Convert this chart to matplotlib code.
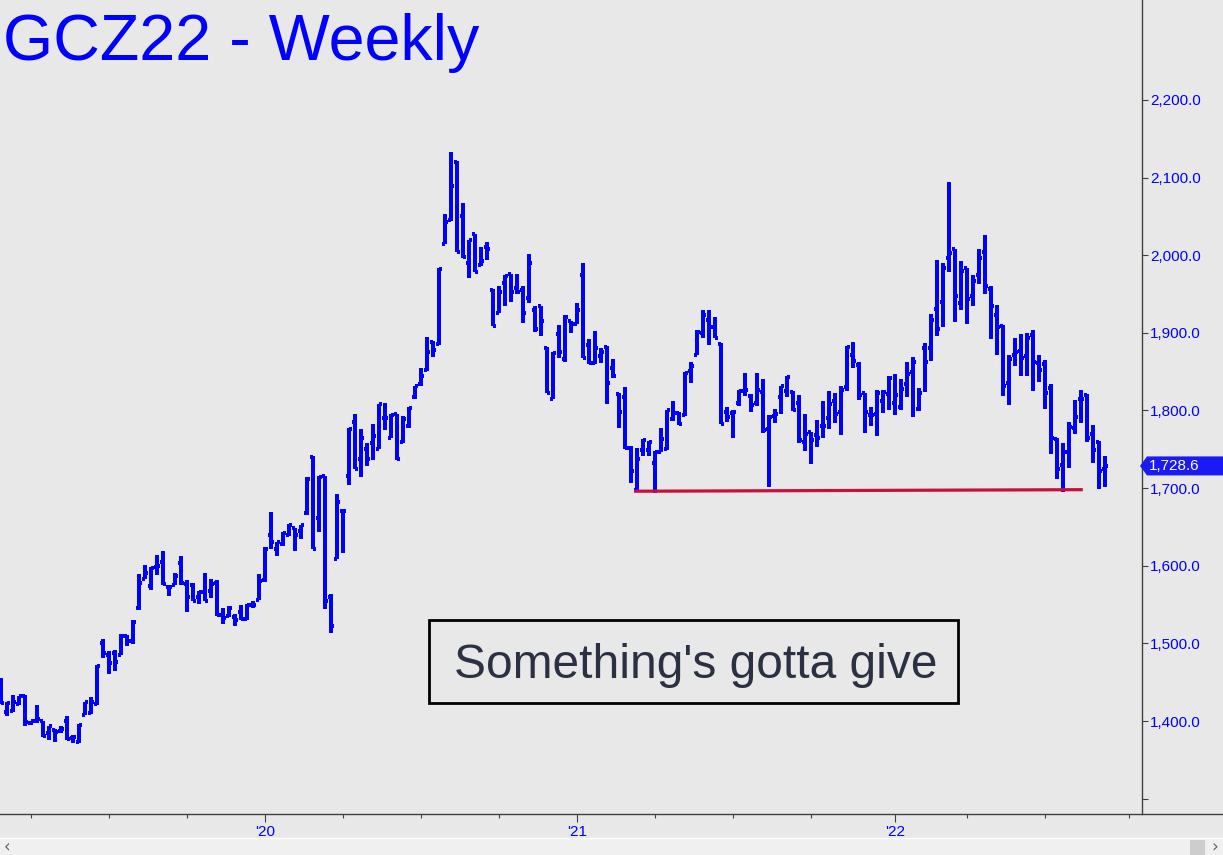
import matplotlib
matplotlib.use('Agg')
import matplotlib.pyplot as plt
from matplotlib.collections import LineCollection
from matplotlib.patches import Rectangle, Polygon
import matplotlib.transforms as mtransforms
import numpy as np

plt.rcParams['font.family'] = ['Liberation Sans', 'DejaVu Sans']

# ---------------- data ----------------
title = "GCZ22 - Weekly"
note = "Something's gotta give"

opens = [1450, 1412, 1413, 1422, 1432, 1397, 1400, 1400, 1385, 1388,
         1387, 1400, 1378, 1373, 1408, 1410, 1422, 1500, 1485, 1487,
         1485, 1510, 1503, 1545, 1583, 1574, 1599, 1605, 1572, 1575,
         1604, 1576, 1575, 1560, 1566, 1567, 1578, 1537, 1535, 1534,
         1540, 1532, 1550, 1556, 1581, 1640, 1621, 1628, 1640, 1648,
         1645, 1668, 1740, 1661, 1715, 1560, 1609, 1670, 1716, 1785,
         1738, 1750, 1758, 1751, 1790, 1765, 1795, 1759, 1780, 1818,
         1834, 1852, 1888, 1886, 2015, 2045, 2120, 2050, 1990, 2027,
         1987, 2010, 1955, 1926, 1964, 1976, 1958, 1955, 1945, 1930,
         1934, 1881, 1815, 1899, 1866, 1915, 1912, 1974, 1884, 1861,
         1870, 1882, 1855, 1821, 1817, 1752, 1698, 1749, 1749, 1732,
         1746, 1751, 1789, 1797, 1794, 1851, 1872, 1900, 1917, 1908,
         1886, 1798, 1797, 1810, 1825, 1819, 1810, 1824, 1776, 1793,
         1818, 1825, 1824, 1810, 1760, 1772, 1768, 1780, 1790, 1812,
         1798, 1830, 1872, 1858, 1822, 1794, 1796, 1812, 1821, 1810,
         1805, 1834, 1849, 1802, 1881, 1881, 1931, 1940, 1996, 2008,
         1938, 1983, 1948, 1974, 2004, 1957, 1923, 1909, 1835, 1872,
         1877, 1870, 1897, 1861, 1860, 1829, 1763, 1730, 1746, 1778,
         1815, 1820, 1770, 1760, 1725]

highs = [1455, 1424, 1434, 1432, 1434, 1400, 1421, 1400, 1394, 1390,
         1393, 1406, 1382, 1396, 1425, 1431, 1472, 1506, 1490, 1491,
         1512, 1511, 1530, 1589, 1601, 1599, 1614, 1619, 1574, 1591,
         1612, 1582, 1578, 1568, 1591, 1583, 1582, 1546, 1548, 1538,
         1549, 1551, 1554, 1589, 1624, 1669, 1631, 1643, 1654, 1648,
         1652, 1714, 1742, 1716, 1715, 1564, 1692, 1672, 1777, 1795,
         1776, 1758, 1782, 1809, 1810, 1795, 1795, 1793, 1804, 1832,
         1855, 1895, 1890, 1984, 2053, 2133, 2121, 2067, 2020, 2027,
         2010, 2017, 1956, 1961, 1974, 1976, 1976, 1961, 2002, 1935,
         1934, 1882, 1875, 1910, 1923, 1915, 1938, 1990, 1892, 1902,
         1881, 1883, 1866, 1822, 1830, 1754, 1752, 1763, 1761, 1748,
         1777, 1801, 1812, 1798, 1850, 1863, 1904, 1929, 1929, 1920,
         1887, 1804, 1801, 1827, 1848, 1821, 1848, 1840, 1794, 1802,
         1832, 1844, 1825, 1820, 1795, 1772, 1788, 1812, 1825, 1822,
         1831, 1883, 1888, 1863, 1822, 1805, 1826, 1826, 1844, 1847,
         1840, 1863, 1869, 1829, 1887, 1924, 1994, 1990, 2094, 2008,
         1993, 1984, 1974, 2008, 2026, 1960, 1936, 1910, 1872, 1893,
         1898, 1900, 1904, 1872, 1865, 1834, 1765, 1758, 1785, 1814,
         1827, 1821, 1781, 1761, 1742]

lows = [1422, 1407, 1412, 1420, 1393, 1395, 1398, 1380, 1376, 1373,
        1385, 1376, 1372, 1372, 1408, 1409, 1420, 1481, 1460, 1464,
        1485, 1497, 1499, 1543, 1583, 1569, 1588, 1575, 1561, 1575,
        1575, 1541, 1554, 1551, 1554, 1559, 1535, 1525, 1534, 1523,
        1530, 1530, 1546, 1556, 1579, 1622, 1612, 1626, 1638, 1619,
        1634, 1666, 1621, 1643, 1544, 1514, 1609, 1617, 1704, 1724,
        1714, 1729, 1736, 1750, 1775, 1764, 1736, 1758, 1778, 1815,
        1832, 1851, 1869, 1884, 2014, 2044, 2004, 1997, 1971, 1978,
        1986, 1994, 1909, 1926, 1935, 1940, 1950, 1913, 1939, 1901,
        1896, 1822, 1815, 1867, 1863, 1900, 1911, 1867, 1860, 1860,
        1861, 1809, 1842, 1778, 1750, 1707, 1695, 1742, 1742, 1694,
        1746, 1749, 1787, 1781, 1793, 1836, 1871, 1893, 1884, 1893,
        1782, 1785, 1765, 1806, 1819, 1798, 1806, 1771, 1702, 1784,
        1795, 1817, 1799, 1758, 1748, 1731, 1753, 1765, 1776, 1784,
        1768, 1825, 1855, 1814, 1771, 1780, 1767, 1797, 1801, 1794,
        1801, 1817, 1792, 1799, 1824, 1864, 1896, 1907, 1978, 1914,
        1930, 1911, 1935, 1963, 1950, 1892, 1871, 1819, 1807, 1857,
        1845, 1844, 1825, 1837, 1802, 1744, 1712, 1695, 1726, 1770,
        1784, 1759, 1733, 1699, 1701]

closes = [1423, 1423, 1424, 1432, 1399, 1400, 1402, 1381, 1393, 1386,
          1390, 1377, 1380, 1395, 1424, 1425, 1471, 1488, 1475, 1476,
          1510, 1503, 1528, 1578, 1591, 1597, 1600, 1576, 1572, 1587,
          1578, 1560, 1555, 1566, 1555, 1577, 1537, 1533, 1546, 1530,
          1531, 1550, 1549, 1580, 1622, 1630, 1630, 1642, 1652, 1639,
          1652, 1712, 1622, 1714, 1555, 1522, 1682, 1671, 1776, 1725,
          1765, 1738, 1767, 1808, 1790, 1794, 1737, 1789, 1803, 1831,
          1845, 1875, 1878, 1982, 2043, 2089, 2004, 1998, 2019, 1979,
          1993, 2008, 1909, 1952, 1973, 1953, 1952, 1926, 1990, 1905,
          1915, 1823, 1874, 1875, 1920, 1912, 1929, 1868, 1861, 1881,
          1875, 1835, 1844, 1798, 1752, 1722, 1738, 1762, 1760, 1746,
          1763, 1800, 1797, 1783, 1848, 1857, 1901, 1923, 1908, 1894,
          1783, 1791, 1798, 1825, 1826, 1807, 1827, 1775, 1791, 1795,
          1831, 1843, 1801, 1762, 1770, 1762, 1764, 1780, 1808, 1795,
          1827, 1882, 1864, 1820, 1798, 1794, 1823, 1824, 1842, 1820,
          1828, 1847, 1862, 1823, 1862, 1917, 1905, 1983, 2003, 1948,
          1980, 1943, 1967, 1997, 1960, 1935, 1907, 1832, 1866, 1875,
          1868, 1894, 1863, 1852, 1822, 1765, 1724, 1746, 1779, 1792,
          1815, 1765, 1749, 1722, 1728.6]

support_span = [105.5, 180.3]      # bar index where the red line starts / ends
support_level = [1696, 1698]

year_labels = ["'20", "'21", "'22"]
year_ticks = [44.03, 96.03, 149.08]
quarter_ticks = [5.03, 18.03, 31.03, 57.03, 70.03, 83.03, 109.03, 122.03,
                 135.03, 161.05, 174.05, 188.08]
price_ticks = [1300, 1400, 1500, 1600, 1700, 1800, 1900, 2000, 2100, 2200]

# ---------------- figure ----------------
W, H = 1223, 855
BG = '#e8e8e8'
BLUE = '#0000ff'
AXC = '#404040'

fig = plt.figure(figsize=(W / 100, H / 100), dpi=100, facecolor=BG)
ax_bottom_px = 814
ax_right_px = 1141.5
ax = fig.add_axes([0, 1 - ax_bottom_px / H, ax_right_px / W, ax_bottom_px / H])
ax.set_facecolor('none')
ax.set_ylim(1280.2, 2328.8)
ax.set_xlim(-1 / 6, (ax_right_px - 1) / 6)

# OHLC bars
idx = np.arange(len(closes))
o = np.clip(opens, lows, highs)
c = np.clip(closes, lows, highs)
vsegs, tsegs = [], []
for i in idx:
    vsegs.append([(i, lows[i]), (i, highs[i])])
    tsegs.append([(i - 0.45, o[i]), (i, o[i])])
    tsegs.append([(i, c[i]), (i + 0.45, c[i])])
ax.add_collection(LineCollection(vsegs, colors=BLUE, linewidths=1.45,
                                 capstyle='butt', antialiaseds=False,
                                 zorder=3))
ax.add_collection(LineCollection(tsegs, colors=BLUE, linewidths=1.45,
                                 capstyle='butt', antialiaseds=False,
                                 zorder=3))

# support line
ax.plot(support_span, support_level, color='#c8103c', lw=2.3,
        solid_capstyle='butt', zorder=4)

# spines
for s in ('left', 'top', 'bottom'):
    ax.spines[s].set_visible(False)
ax.spines['right'].set_color(AXC)
ax.spines['right'].set_linewidth(1.0)

# y axis
ax.yaxis.tick_right()
ax.set_yticks(price_ticks)
ax.set_yticklabels(['' if v == 1300 else f'{v:,.1f}' for v in price_ticks])
ax.tick_params(axis='y', direction='out', length=4, width=0.8, color=AXC,
               labelcolor=BLUE, labelsize=11, pad=2)

# x axis
ax.set_xticks(year_ticks)
ax.set_xticklabels(year_labels)
ax.set_xticks(quarter_ticks, minor=True)
ax.tick_params(axis='x', which='major', direction='out', length=6, width=0.8,
               color=AXC, labelcolor=BLUE, labelsize=11, pad=2)
ax.tick_params(axis='x', which='minor', direction='out', length=3, width=0.8,
               color=AXC)

# last price tag
trans = mtransforms.blended_transform_factory(fig.transFigure, ax.transData)
last = closes[-1]
hh = 9.5 / 0.7763
tag = Polygon([(1140 / W, last), (1147 / W, last + hh), (1.0, last + hh),
               (1.0, last - hh), (1147 / W, last - hh)], closed=True,
              transform=trans, facecolor='#1a1af5', edgecolor='none',
              clip_on=False, zorder=6)
ax.add_patch(tag)
ax.text(1149 / W, last, f'{last:,.1f}', transform=trans, color='white',
        fontsize=11, va='center', ha='left', clip_on=False, zorder=7)

# overlay in pixel coordinates
ov = fig.add_axes([0, 0, 1, 1], zorder=5)
ov.set_xlim(0, W)
ov.set_ylim(H, 0)
ov.axis('off')
ov.patch.set_alpha(0)

ov.plot([0, W], [814, 814], color=AXC, lw=1.0)
ov.text(3, 60, title, fontsize=46.5, color=BLUE, ha='left', va='baseline')

ov.add_patch(Rectangle((429, 620), 529, 83, fill=False, ec='black', lw=2.0))
ov.text(695.5, 678, note, fontsize=34.5, color='#2b3042', ha='center',
        va='baseline')

# scrollbar strip
ov.add_patch(Rectangle((0, 838), W, 17, facecolor='#f0f0f0', edgecolor='none'))
ov.plot([0, W], [838, 838], color='white', lw=1)
ov.add_patch(Rectangle((1190, 840), 15, 15, facecolor='#cdcdcd', edgecolor='none'))
ov.text(7, 847, '‹', fontsize=12, color='#606060', ha='center', va='center',
        family='DejaVu Sans')
ov.text(1215, 847, '›', fontsize=12, color='#606060', ha='center', va='center',
        family='DejaVu Sans')

fig.savefig('out.png', dpi=100, facecolor=BG)
